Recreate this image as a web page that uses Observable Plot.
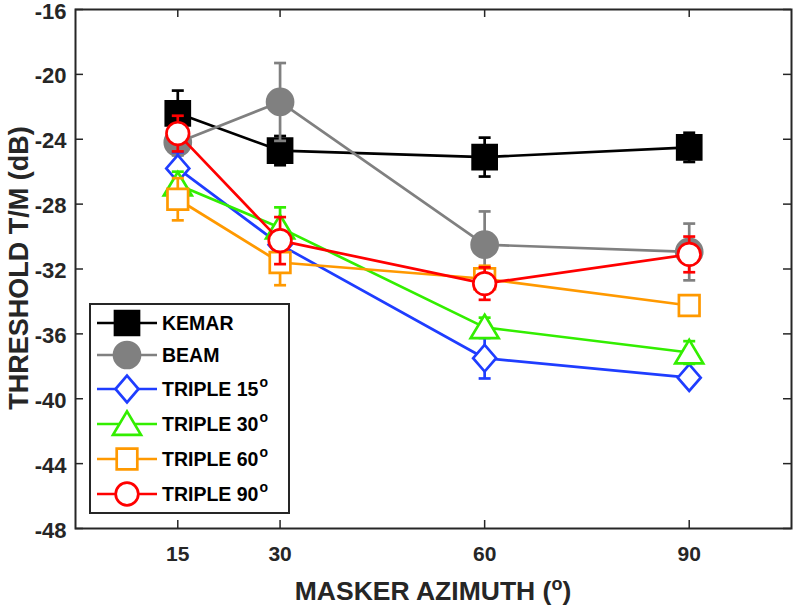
<!DOCTYPE html>
<html><head><meta charset="utf-8">
<script src="https://cdn.jsdelivr.net/npm/d3@7"></script>
<script src="https://cdn.jsdelivr.net/npm/@observablehq/plot@0.6"></script>
<style>
body{margin:0;background:#fff;}
#chart svg{display:block;}
</style></head><body><div id="chart"></div>
<script>
// ---- data ----
const azimuth = [15, 30, 60, 90];
const seriesNames = ["KEMAR", "BEAM", "TRIPLE 15", "TRIPLE 30", "TRIPLE 60", "TRIPLE 90"];
const kemar     = [-22.4, -24.7, -25.1, -24.5];
const kemarErr  = [1.4, 0.9, 1.2, 0.9];
const beam      = [-24.2, -21.7, -30.5, -30.95];
const beamErr   = [0.8, 2.4, 2.05, 1.75];
const triple15    = [-25.8, -30.5, -37.5, -38.7];
const triple15Err = [1.0, 0.8, 1.25, 0.3];
const triple30    = [-26.8, -29.45, -35.6, -37.15];
const triple30Err = [0.8, 1.25, 0.6, 0.7];
const triple60    = [-27.7, -31.6, -32.6, -34.25];
const triple60Err = [1.3, 1.4, 0.8, 0.3];
const triple90    = [-23.65, -30.25, -32.9, -31.1];
const triple90Err = [1.1, 1.45, 1.0, 1.1];
const xTicks = [15, 30, 60, 90];
const yTicks = [-16, -20, -24, -28, -32, -36, -40, -44, -48];

// ---- symbols ----
const symSquare = {draw(c, size){const r = Math.sqrt(size/Math.PI); c.moveTo(-r,-r); c.lineTo(r,-r); c.lineTo(r,r); c.lineTo(-r,r); c.closePath();}};
const symDiamond = {draw(c, size){const r = Math.sqrt(size/Math.PI); const h = r*1.16; c.moveTo(0,-h); c.lineTo(r,0); c.lineTo(0,h); c.lineTo(-r,0); c.closePath();}};
const symTriangle = {draw(c, size){const r = Math.sqrt(size/Math.PI); c.moveTo(0,-0.9*r); c.lineTo(r,0.77*r); c.lineTo(-r,0.77*r); c.closePath();}};
const symCircle = {draw(c, size){const r = Math.sqrt(size/Math.PI); c.moveTo(r,0); c.arc(0,0,r,0,2*Math.PI); c.closePath();}};
const symCap = {draw(c, size){const r = Math.sqrt(size/Math.PI); c.moveTo(-r,0); c.lineTo(r,0);}};

const styles = [
  {color:"#000000", fill:"#000000", symbol:symSquare, r:12},
  {color:"#808080", fill:"#808080", symbol:symCircle, r:13},
  {color:"#1f3dff", fill:"#ffffff", symbol:symDiamond, r:11.5},
  {color:"#33ee00", fill:"#ffffff", symbol:symTriangle, r:14},
  {color:"#ff9900", fill:"#ffffff", symbol:symSquare, r:10.3},
  {color:"#ff0000", fill:"#ffffff", symbol:symCircle, r:11.3}
];
const values = [kemar, beam, triple15, triple30, triple60, triple90];
const errs = [kemarErr, beamErr, triple15Err, triple30Err, triple60Err, triple90Err];

const W = 793, H = 609, mL = 75, mR = 2, mT = 9, mB = 81;
const pw = W - mL - mR, ph = H - mT - mB;
const ink = "#262626";
const LW = 2.7;
const FONT = "'Liberation Sans', Arial, sans-serif";

const marks = [];
values.forEach((vals, i) => {
  const st = styles[i];
  const rows = azimuth.map((a, j) => ({x: a, y: vals[j], e: errs[i][j]}));
  marks.push(Plot.line(rows, {x: "x", y: "y", stroke: st.color, strokeWidth: LW}));
  marks.push(Plot.ruleX(rows, {x: "x", y1: d => d.y - d.e, y2: d => d.y + d.e, stroke: st.color, strokeWidth: LW}));
  marks.push(Plot.dot(rows, {x: "x", y: d => d.y + d.e, symbol: symCap, r: 6, stroke: st.color, strokeWidth: LW}));
  marks.push(Plot.dot(rows, {x: "x", y: d => d.y - d.e, symbol: symCap, r: 6, stroke: st.color, strokeWidth: LW}));
  marks.push(Plot.dot(rows, {x: "x", y: "y", symbol: st.symbol, r: st.r, stroke: st.color, fill: st.fill, strokeWidth: LW}));
});

const plot = Plot.plot({
  width: W, height: H,
  marginLeft: mL, marginRight: mR, marginTop: mT, marginBottom: mB,
  style: {fontFamily: FONT, fontWeight: "bold", fontSize: "21px", color: ink, background: "#fff"},
  x: {domain: [0, 105]},
  y: {domain: [-48, -16]},
  marks: [
    Plot.axisX(xTicks, {tickSize: 0, tickPadding: 18, label: null, fill: ink, tickFormat: d => String(d)}),
    Plot.axisY(yTicks, {tickSize: 0, tickPadding: 9, dy: 2, label: null, fill: ink, fontSize: 22, tickFormat: d => String(d)}),
    Plot.tickX(xTicks, {x: d => d, insetTop: ph - 8, stroke: ink, strokeWidth: 1.5}),
    Plot.tickX(xTicks, {x: d => d, insetBottom: ph - 8, stroke: ink, strokeWidth: 1.5}),
    Plot.tickY(yTicks, {y: d => d, insetRight: pw - 8, stroke: ink, strokeWidth: 1.5}),
    Plot.tickY(yTicks, {y: d => d, insetLeft: pw - 8, stroke: ink, strokeWidth: 1.5}),
    ...marks,
    Plot.frame({stroke: ink, strokeWidth: 2})
  ]
});
document.getElementById("chart").appendChild(plot);

// ---- titles & legend ----
const svg = d3.select(plot);
const xt = svg.append("text").attr("x", 433).attr("y", 600).attr("text-anchor", "middle")
  .attr("font-family", FONT).attr("font-size", 26.5).attr("font-weight", "bold").attr("fill", ink);
xt.append("tspan").text("MASKER AZIMUTH (");
xt.append("tspan").attr("font-size", 18).attr("dy", -10).text("o");
xt.append("tspan").attr("dy", 10).text(")");

svg.append("text").attr("transform", "translate(28,268) rotate(-90)").attr("text-anchor", "middle")
  .attr("font-family", FONT).attr("font-size", 27).attr("font-weight", "bold").attr("fill", ink).text("THRESHOLD T/M (dB)");

const lg = svg.append("g");
lg.append("rect").attr("x", 90).attr("y", 304).attr("width", 199).attr("height", 209)
  .attr("fill", "#fff").attr("stroke", ink).attr("stroke-width", 2);
const ly = [323, 355, 389, 424, 459, 494];
seriesNames.forEach((name, i) => {
  const st = styles[i];
  const y = ly[i];
  lg.append("line").attr("x1", 97).attr("x2", 157).attr("y1", y).attr("y2", y)
    .attr("stroke", st.color).attr("stroke-width", LW);
  lg.append("path").attr("transform", `translate(127,${y})`)
    .attr("d", d3.symbol().type(st.symbol).size(Math.PI * st.r * st.r)())
    .attr("fill", st.fill).attr("stroke", st.color).attr("stroke-width", LW);
  const t = lg.append("text").attr("x", 162).attr("y", y + 7).attr("text-anchor", "start")
    .attr("font-family", FONT).attr("font-size", 19.5).attr("font-weight", "bold").attr("fill", "#000");
  t.append("tspan").text(name);
  if (name.startsWith("TRIPLE")) {
    t.append("tspan").attr("font-size", 14).attr("dy", -9).attr("dx", 1).text("o");
  }
});
</script></body></html>
